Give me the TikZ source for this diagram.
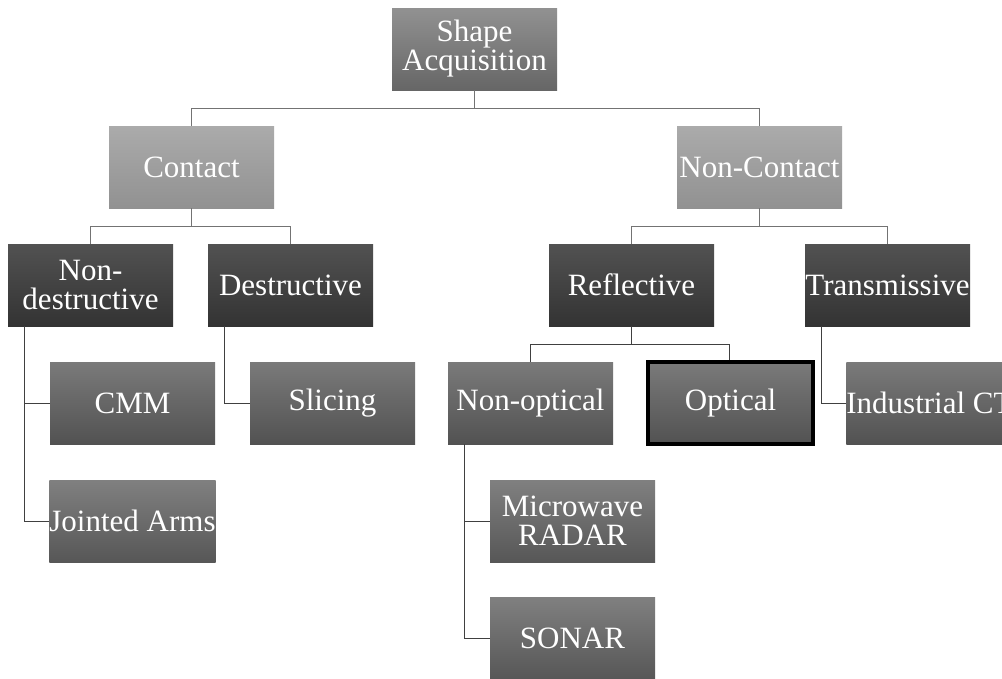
\documentclass[tikz,border=0pt]{standalone}
\usepackage{fontspec}
\setmainfont{Liberation Serif}
\begin{document}
\begin{tikzpicture}[x=1pt,y=-1pt,
  box/.style={rectangle, minimum width=165pt, minimum height=82pt, inner sep=0pt,
    align=center, text=white, font=\fontsize{31}{29}\selectfont},
  lvlA/.style={box, top color=black!43, bottom color=black!60},
  lvlB/.style={box, top color=black!33, bottom color=black!43},
  lvlC/.style={box, top color=black!68, bottom color=black!80},
  lvlD/.style={box, top color=black!52, bottom color=black!68},
  lvlE/.style={box, top color=black!50, bottom color=black!66},
  picked/.style={draw=black, line width=4pt},
  link/.style={draw=black!55, line width=1pt},
  hang/.style={draw=black!75, line width=1pt}]
\useasboundingbox (0,0) rectangle (1002,678);
\clip (0,0) rectangle (1002,678);
\fill[white] (0,0) rectangle (1002,678);

% root and first split
\node[lvlA] (sa) at (474.5,49) {Shape\\Acquisition};
\node[lvlB] (contact) at (191.5,167) {Contact};
\node[lvlB] (noncontact) at (759.5,167) {Non-Contact};

% third row
\node[lvlC] (nondes) at (90.5,285) {Non-\\destructive};
\node[lvlC] (des) at (290.5,285) {Destructive};
\node[lvlC] (refl) at (631.5,285) {Reflective};
\node[lvlC] (trans) at (887.5,285) {Transmissive};

% fourth row
\node[lvlD] (cmm) at (132.5,403) {CMM};
\node[lvlD] (slicing) at (332.5,403) {Slicing};
\node[lvlD] (nonopt) at (530.5,403) {Non-optical};
\node[lvlD, picked] (optical) at (730.5,403) {Optical};
\node[lvlD] (ict) at (929.5,403) {Industrial CT};

% hanging leaves
\node[lvlE] (jarms) at (132.5,521) {Jointed Arms};
\node[lvlE] (micro) at (572.5,521) {Microwave\\RADAR};
\node[lvlE] (sonar) at (572.5,638.5) {SONAR};

% tree connectors
\draw[link] (sa.south) -- ++(0,18) -| (contact.north);
\draw[link] (sa.south) -- ++(0,18) -| (noncontact.north);
\draw[link] (contact.south) -- ++(0,18) -| (nondes.north);
\draw[link] (contact.south) -- ++(0,18) -| (des.north);
\draw[link] (noncontact.south) -- ++(0,18) -| (refl.north);
\draw[link] (noncontact.south) -- ++(0,18) -| (trans.north);
\draw[hang] (refl.south) -- ++(0,18) -| (nonopt.north);
\draw[hang] (refl.south) -- ++(0,18) -| ([xshift=-1pt]optical.north);

% hanging connectors
\draw[hang] ([xshift=17pt]nondes.south west) |- (cmm.west);
\draw[hang] ([xshift=17pt]nondes.south west) |- (jarms.west);
\draw[hang] ([xshift=17pt]des.south west) |- (slicing.west);
\draw[hang] ([xshift=17pt]trans.south west) |- (ict.west);
\draw[hang] ([xshift=17pt]nonopt.south west) |- (micro.west);
\draw[hang] ([xshift=17pt]nonopt.south west) |- (sonar.west);
\end{tikzpicture}
\end{document}
